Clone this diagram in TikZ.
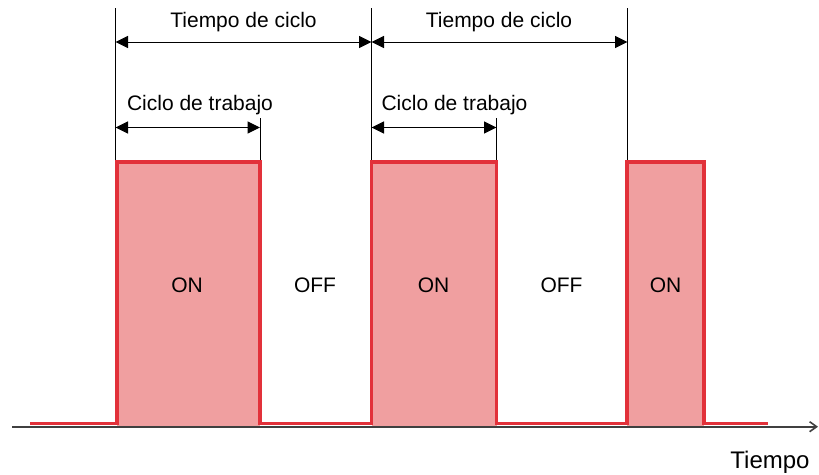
\documentclass[tikz,border=0pt]{standalone}
\usepackage{fontspec}
\setmainfont{Liberation Sans}
\usetikzlibrary{arrows.meta}
\definecolor{sigred}{HTML}{E2313A}
\definecolor{sigpink}{HTML}{F09FA0}
\definecolor{axgray}{HTML}{404040}
\begin{document}
\begin{tikzpicture}[x=1pt,y=-1pt,
  lbl/.style={inner sep=0pt,anchor=base,font=\fontsize{21}{25}\selectfont},
  guide/.style={draw=black,line width=1pt},
  dim/.style={draw=black,line width=1pt,{Triangle[length=12.5pt,width=12pt]}-{Triangle[length=12.5pt,width=12pt]}},
  pulsefill/.style={fill=sigpink,draw=none},
  signal/.style={draw=sigred,line width=3.8pt,line join=miter},
  axis/.style={draw=axgray,line width=1.6pt,-{Straight Barb[length=7pt,width=10pt,line width=1.6pt]}}]
\useasboundingbox (0,0) rectangle (819,474);
% pulse fills
\fill[pulsefill] (117,162) rectangle (260,427);
\fill[pulsefill] (371.5,162) rectangle (496.5,427);
\fill[pulsefill] (627,162) rectangle (704,427);
% axis
\coordinate (ax0) at (12,426.7);
\coordinate (ax1) at (818,426.7);
\draw[axis] (ax0) -- (ax1);
% signal
\draw[signal] (30,423.5) -- (117,423.5) -- (117,162) -- (260,162) -- (260,423.5)
  -- (371.5,423.5) -- (371.5,162) -- (496.5,162) -- (496.5,423.5)
  -- (627,423.5) -- (627,162) -- (704,162) -- (704,423.5) -- (768,423.5);
% guide lines
\coordinate (g1t) at (115.5,8);   \coordinate (g1b) at (115.5,160);
\coordinate (g2t) at (371.5,8);   \coordinate (g2b) at (371.5,160);
\coordinate (g3t) at (627.5,8);   \coordinate (g3b) at (627.5,160);
\coordinate (d1t) at (260,118);   \coordinate (d1b) at (260,160);
\coordinate (d2t) at (496.5,118); \coordinate (d2b) at (496.5,160);
\draw[guide] (g1t) -- (g1b);
\draw[guide] (g2t) -- (g2b);
\draw[guide] (g3t) -- (g3b);
\draw[guide] (d1t) -- (d1b);
\draw[guide] (d2t) -- (d2b);
% dimension arrows
\coordinate (c1a) at (115.5,42); \coordinate (c1b) at (371.5,42);
\coordinate (c2a) at (371.5,42); \coordinate (c2b) at (627.5,42);
\coordinate (w1a) at (115.5,127.5); \coordinate (w1b) at (260,127.5);
\coordinate (w2a) at (371.5,127.5); \coordinate (w2b) at (496.5,127.5);
\draw[dim] (c1a) -- (c1b);
\draw[dim] (c2a) -- (c2b);
\draw[dim] (w1a) -- (w1b);
\draw[dim] (w2a) -- (w2b);
% labels
\node[lbl] (tc1) at (243.5,27) {Tiempo de ciclo};
\node[lbl] (tc2) at (499,27) {Tiempo de ciclo};
\node[lbl] (ct1) at (200,110) {Ciclo de trabajo};
\node[lbl] (ct2) at (454.5,110) {Ciclo de trabajo};
\node[lbl] (on1) at (187,292) {ON};
\node[lbl] (off1) at (315,292) {OFF};
\node[lbl] (on2) at (433.5,292) {ON};
\node[lbl] (off2) at (561.5,292) {OFF};
\node[lbl] (on3) at (665.5,292) {ON};
\node[lbl,font=\fontsize{24}{28}\selectfont] (tiempo) at (770,468.5) {Tiempo};
\end{tikzpicture}
\end{document}
